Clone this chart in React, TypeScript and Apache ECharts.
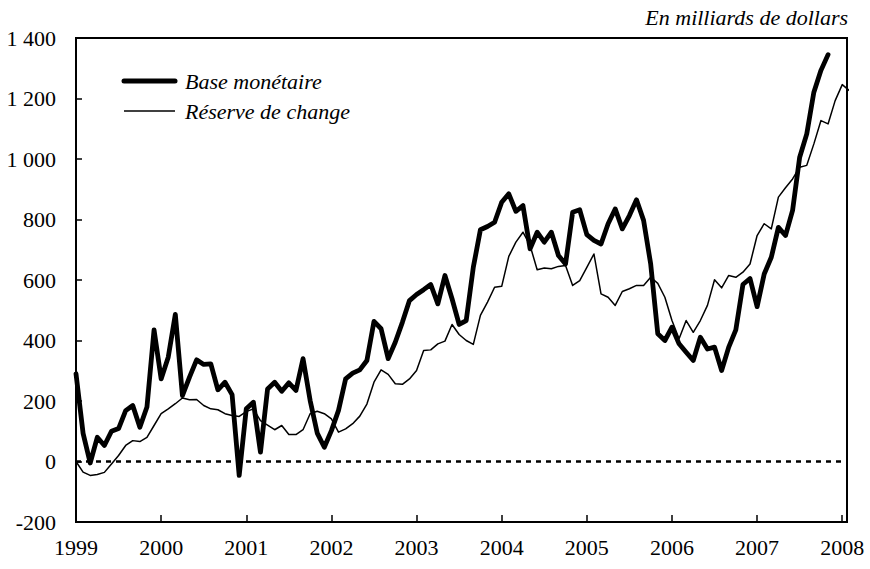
import React, { useEffect, useRef } from "react";
import * as echarts from "echarts";

// Monthly data, January 1999 = month 0
const baseMonetaire = [
  290, 93, -5, 80, 53, 100, 109, 168, 185, 113, 180, 435,
  273, 345, 486, 218, 279, 336, 321, 323, 237, 262, 221, -46,
  174, 196, 31, 240, 262, 232, 260, 235, 340, 202, 94, 47,
  102, 169, 273, 292, 303, 334, 463, 439, 340, 394, 460, 532,
  552, 568, 585, 521, 615, 538, 453, 466, 642, 766, 777, 791,
  857, 885, 827, 846, 703, 758, 725, 758, 681, 653, 824, 832,
  750, 731, 719, 786, 835, 769, 813, 865, 797, 653, 422, 400,
  444, 389, 361, 334, 411, 372, 378, 301, 378, 435, 585, 605,
  512, 620, 675, 774, 747, 830, 1006, 1083, 1221, 1293, 1345,
];

const reserveDeChange = [
  0, -35, -46, -43, -36, -8, 20, 53, 69, 66, 80, 119,
  158, 174, 191, 210, 204, 205, 185, 174, 171, 158, 152, 149,
  165, 174, 135, 120, 105, 119, 89, 89, 105, 158, 166, 158,
  141, 97, 108, 125, 150, 190, 262, 303, 288, 257, 255, 273,
  301, 367, 369, 389, 398, 453, 420, 400, 387, 483, 527, 576,
  579, 678, 725, 758, 714, 634, 640, 637, 645, 648, 582, 598,
  642, 686, 554, 543, 516, 562, 571, 582, 582, 609, 589, 543,
  466, 406, 466, 427, 466, 516, 601, 574, 615, 609, 626, 653,
  747, 786, 769, 874, 905, 934, 973, 979, 1050, 1127, 1116, 1193,
  1246, 1226,
];

const startYear = 1999;
const yTicks = { min: -200, max: 1400, interval: 200 };
const seriesNames = ["Base monétaire", "Réserve de change"];
const unitLabel = "En milliards de dollars";

const FONT = '"Liberation Serif", "Times New Roman", serif';

function fmtY(v: number): string {
  if (Math.abs(v) >= 1000) {
    const sign = v < 0 ? "-" : "";
    const a = Math.abs(v);
    return sign + Math.floor(a / 1000) + " " + String(a % 1000).padStart(3, "0");
  }
  return String(v);
}

export default function App() {
  const ref = useRef<HTMLDivElement>(null);
  useEffect(() => {
    if (!ref.current) return;
    const chart = echarts.init(ref.current, null, { renderer: "svg" });
    const option: any = {
      animation: false,
      backgroundColor: "#fff",
      grid: {
        left: 76,
        right: 23,
        top: 38,
        bottom: 47,
        show: true,
        borderColor: "#000",
        borderWidth: 2,
        backgroundColor: "transparent",
      },
      xAxis: {
        type: "value",
        min: 0,
        max: 108.67,
        interval: 12,
        axisLine: { show: true, onZero: false, lineStyle: { color: "#000", width: 2 } },
        axisTick: { show: true, inside: true, length: 7, lineStyle: { color: "#000", width: 1.5 } },
        splitLine: { show: false },
        axisLabel: {
          showMaxLabel: false,
          margin: 14,
          color: "#000",
          fontFamily: FONT,
          fontSize: 22,
          formatter: (v: number) =>
            Math.abs(v % 12) < 1e-6 ? String(startYear + Math.round(v / 12)) : "",
        },
      },
      yAxis: {
        type: "value",
        min: yTicks.min,
        max: yTicks.max,
        interval: yTicks.interval,
        axisLine: { show: true, onZero: false, lineStyle: { color: "#000", width: 2 } },
        axisTick: { show: true, inside: true, length: 6, lineStyle: { color: "#000", width: 1.5 } },
        splitLine: { show: false },
        axisLabel: {
          margin: 20,
          color: "#000",
          fontFamily: FONT,
          fontSize: 22,
          formatter: (v: number) => fmtY(v),
        },
      },
      series: [
        {
          name: seriesNames[1],
          type: "line",
          symbol: "none",
          clip: true,
          data: reserveDeChange.map((v, i) => [i, v]),
          lineStyle: { color: "#000", width: 1.5, join: "round" },
          z: 2,
          markLine: {
            silent: true,
            symbol: ["none", "none"],
            label: { show: false },
            lineStyle: { color: "#000", type: [5, 5], width: 2.5 },
            data: [{ yAxis: 0 }],
          },
        },
        {
          name: seriesNames[0],
          type: "line",
          symbol: "none",
          clip: true,
          data: baseMonetaire.map((v, i) => [i, v]),
          lineStyle: { color: "#000", width: 4.8, join: "round", cap: "round" },
          z: 3,
        },
      ],
      graphic: [
        {
          type: "text",
          right: 22,
          top: 6,
          style: {
            text: unitLabel,
            font: `italic 22px ${FONT}`,
            fill: "#000",
          },
        },
        {
          type: "line",
          shape: { x1: 124, y1: 81, x2: 175, y2: 81 },
          style: { stroke: "#000", lineWidth: 5, lineCap: "round" },
        },
        {
          type: "text",
          x: 185,
          y: 81,
          style: {
            text: seriesNames[0],
            font: `italic 22px ${FONT}`,
            fill: "#000",
            align: "left",
            verticalAlign: "middle",
          },
        },
        {
          type: "line",
          shape: { x1: 124, y1: 111, x2: 175, y2: 111 },
          style: { stroke: "#000", lineWidth: 1.5 },
        },
        {
          type: "text",
          x: 185,
          y: 111,
          style: {
            text: seriesNames[1],
            font: `italic 22px ${FONT}`,
            fill: "#000",
            align: "left",
            verticalAlign: "middle",
          },
        },
      ],
    };
    chart.setOption(option);
    return () => chart.dispose();
  }, []);
  return <div ref={ref} style={{ width: 870, height: 569, position: "absolute", left: 0, top: 0 }} />;
}
